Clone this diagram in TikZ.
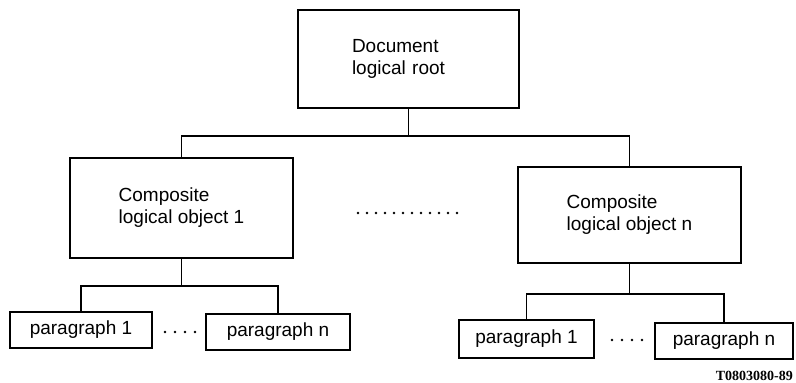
\documentclass[tikz,border=0pt]{standalone}
\usepackage{fontspec}
\setmainfont{Liberation Sans}
\newfontfamily\labelfont{Liberation Serif}
\begin{document}
\begin{tikzpicture}[x=1pt,y=-1pt,
  bigbox/.style={draw,line width=1.6pt,inner ysep=0pt,align=left,
    font=\fontsize{19}{22}\selectfont},
  parbox/.style={draw,line width=1.6pt,inner sep=0pt,align=center,
    font=\fontsize{19}{22}\selectfont},
  conn/.style={line width=1.5pt},
  dotline/.style={line width=2.6pt,line cap=round,dash pattern=on 0pt off 9pt}]
\useasboundingbox (0,0) rectangle (796,383);
\node[bigbox,text width=113pt,inner xsep=54pt,minimum height=98pt] (root) at (408.5,59) {Document\\logical root};
\node[bigbox,minimum width=223pt,minimum height=100pt] (c1) at (181.5,208) {Composite\\logical object 1};
\node[bigbox,minimum width=223pt,minimum height=96pt] (cn) at (629.5,215) {Composite\\logical object n};
\node[parbox,minimum width=142pt,minimum height=36pt] (p11) at (81,330) {paragraph 1};
\node[parbox,minimum width=144pt,minimum height=36pt] (p1n) at (278,332) {paragraph n};
\node[parbox,minimum width=135pt,minimum height=38pt] (pn1) at (526.5,339) {paragraph 1};
\node[parbox,minimum width=138pt,minimum height=36pt] (pnn) at (724,341) {paragraph n};
\node[font=\labelfont\bfseries\fontsize{14}{15}\selectfont,anchor=base east,inner sep=0pt] (lab) at (793,380.5) {T0803080-89};
% connectors
\draw[conn] (root.south) -- ++(0,27) coordinate (b0);
\draw[conn] (c1.north) |- (b0) -| (cn.north);
\draw[conn] (c1.south) -- ++(0,27) coordinate (b1);
\draw[conn] (p11.north) |- (b1) -| (p1n.north);
\draw[conn] (cn.south) -- ++(0,30) coordinate (b2);
\draw[conn] (pn1.north) |- (b2) -| (pnn.north);
% dots
\coordinate (d0a) at (358,213); \coordinate (d0b) at (458,213);
\coordinate (d1a) at (165,332); \coordinate (d1b) at (196,332);
\coordinate (d2a) at (612,340); \coordinate (d2b) at (643,340);
\draw[dotline] (d0a) -- (d0b);
\draw[dotline,dash pattern=on 0pt off 10pt] (d1a) -- (d1b);
\draw[dotline,dash pattern=on 0pt off 10pt] (d2a) -- (d2b);
\end{tikzpicture}
\end{document}
